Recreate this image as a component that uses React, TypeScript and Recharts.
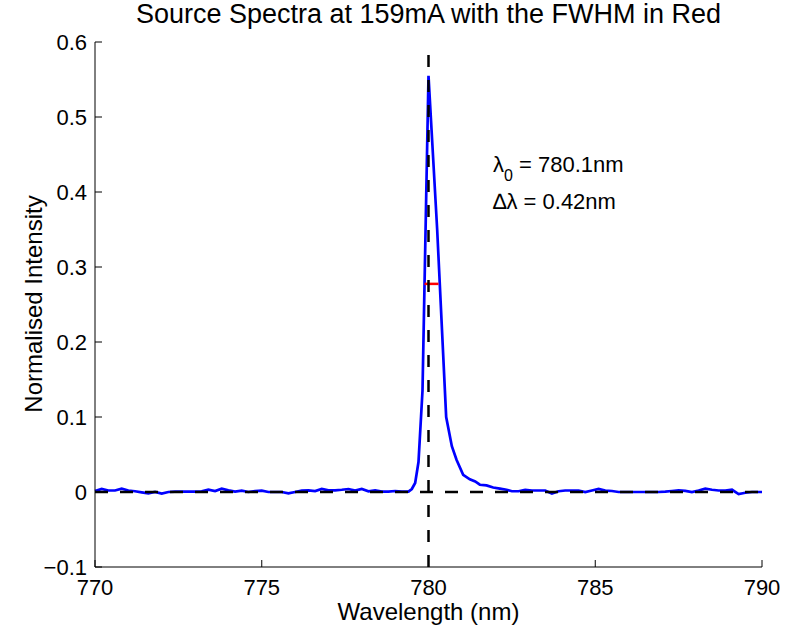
// Source spectrum around 780 nm with FWHM marker

import { LineChart, Line, XAxis, YAxis, ReferenceLine } from 'recharts';

const WAVELENGTH = [
  770.0, 770.2, 770.4, 770.6, 770.8, 771.0, 771.2, 771.4, 771.6, 771.8,
  772.0, 772.2, 772.4, 772.6, 772.8, 773.0, 773.2, 773.4, 773.6, 773.8,
  774.0, 774.2, 774.4, 774.6, 774.8, 775.0, 775.2, 775.4, 775.6, 775.8,
  776.0, 776.2, 776.4, 776.6, 776.8, 777.0, 777.2, 777.4, 777.6, 777.8,
  778.0, 778.2, 778.4, 778.6, 778.8, 779.0, 779.2, 779.4,
  779.5, 779.6, 779.7, 779.82, 780.0, 780.26, 780.53, 780.7, 780.84,
  781.04, 781.24, 781.4, 781.54, 781.74, 781.94, 782.14, 782.34, 782.5, 782.7,
  782.9, 783.1, 783.3, 783.5, 783.7, 783.9, 784.1, 784.3, 784.5, 784.7,
  784.9, 785.1, 785.3, 785.5, 785.7, 785.9, 786.1, 786.3, 786.5, 786.7,
  786.9, 787.1, 787.3, 787.5, 787.7, 787.9, 788.1, 788.3, 788.5, 788.7,
  788.9, 789.1, 789.3, 789.5, 789.7, 789.9, 790.0,
];

const INTENSITY = [
  0.0013, 0.004, 0.002, 0.002, 0.0045, 0.002, 0.001, -0.0005, -0.0018, 0,
  -0.002, 0, 0.0005, 0.0005, 0.0005, 0.0005, 0.001, 0.003, 0.0013, 0.0045,
  0.0022, 0.0005, 0.0018, 0, 0.0013, 0.0018, 0, 0, 0, -0.0018,
  0, 0.0018, 0.0022, 0.0013, 0.004, 0.0022, 0.0022, 0.003, 0.004, 0.0018,
  0.004, 0.001, 0.0022, 0.0005, 0.0005, 0.0013, 0.0005, 0.0005,
  0.004, 0.012, 0.04, 0.135, 0.555, 0.35, 0.1, 0.061, 0.043,
  0.023, 0.017, 0.014, 0.0097, 0.0088, 0.006, 0.0044, 0.003, 0.001, 0.001,
  0.003, 0.002, 0.002, 0.002, -0.002, 0.001, 0.002, 0.002, 0.002, 0,
  0.002, 0.004, 0.0018, 0.0013, 0, 0, 0, 0, 0, 0,
  0, 0.0005, 0.0013, 0.0022, 0.0015, 0, 0.002, 0.0045, 0.003, 0.002,
  0.002, 0.003, -0.0027, -0.001, 0, 0, 0,
];

const X_TICKS = [770, 775, 780, 785, 790];
const Y_TICKS = [-0.1, 0, 0.1, 0.2, 0.3, 0.4, 0.5, 0.6];

const CENTRE_WL = 780;
const FWHM_EDGES = [779.88, 780.3];
const HALF_MAX = 0.2775;

const FONT = '"Liberation Sans", Arial, Helvetica, sans-serif';

const data = WAVELENGTH.map((wl, i) => ({ wl, v: INTENSITY[i] }));

function fmtY(v: number) {
  if (v === 0) return '0';
  const s = Math.abs(v).toFixed(1);
  return v < 0 ? '\u2212' + s : s;
}

function XTick({ x, y, payload }: any) {
  return (
    <g>
      <line x1={x} x2={x} y1={y} y2={y - 7} stroke="#000" strokeWidth={1} />
      <text x={x} y={y + 28} textAnchor="middle" fontSize={22} fontFamily={FONT} fill="#000">
        {payload.value}
      </text>
    </g>
  );
}

function YTick({ x, y, payload }: any) {
  return (
    <g>
      <line x1={x} x2={x + 7} y1={y} y2={y} stroke="#000" strokeWidth={1} />
      <text x={x - 8} y={y + 8} textAnchor="end" fontSize={22} fontFamily={FONT} fill="#000">
        {fmtY(payload.value)}
      </text>
    </g>
  );
}

export default function App() {
  return (
    <div style={{ position: 'absolute', left: 0, top: 0, width: 786, height: 632, background: '#fff' }}>
      <LineChart width={786} height={632} data={data} margin={{ top: 42, right: 24, left: 35, bottom: 25 }}>
        <XAxis
          dataKey="wl"
          type="number"
          domain={[770, 790]}
          ticks={X_TICKS}
          interval={0}
          axisLine={{ stroke: '#000', strokeWidth: 1 }}
          tickLine={false}
          tickSize={0}
          tickMargin={0}
          height={40}
          tick={<XTick />}
        />
        <YAxis
          type="number"
          domain={[-0.1, 0.6]}
          ticks={Y_TICKS}
          interval={0}
          axisLine={{ stroke: '#000', strokeWidth: 1 }}
          tickLine={false}
          tickSize={0}
          tickMargin={0}
          width={60}
          tick={<YTick />}
        />
        <Line
          dataKey="v"
          type="linear"
          stroke="#0000ff"
          strokeWidth={2.7}
          dot={false}
          isAnimationActive={false}
        />
        <ReferenceLine
          segment={[
            { x: FWHM_EDGES[0], y: HALF_MAX },
            { x: FWHM_EDGES[1], y: HALF_MAX },
          ]}
          stroke="#ff0000"
          strokeWidth={2.5}
        />
        <ReferenceLine y={0} stroke="#000" strokeWidth={2.5} strokeDasharray="13 12" />
        <ReferenceLine x={CENTRE_WL} stroke="#000" strokeWidth={2.5} strokeDasharray="12 13" />
      </LineChart>
      <svg
        width={786}
        height={632}
        style={{ position: 'absolute', left: 0, top: 0, pointerEvents: 'none' }}
        fontFamily={FONT}
      >
        <text x={428.5} y={23} textAnchor="middle" fontSize={27} fill="#000">
          Source Spectra at 159mA with the FWHM in Red
        </text>
        <text x={428.5} y={620} textAnchor="middle" fontSize={24} fill="#000">
          Wavelength (nm)
        </text>
        <text transform="translate(42,304) rotate(-90)" textAnchor="middle" fontSize={24} fill="#000">
          Normalised Intensity
        </text>
        <text x={493} y={172} fontSize={22} fill="#000">
          λ<tspan dy={9} fontSize={16}>0</tspan>
          <tspan dy={-9}> = 780.1nm</tspan>
        </text>
        <text x={493} y={209} fontSize={22} fill="#000">
          ∆λ = 0.42nm
        </text>
      </svg>
    </div>
  );
}
